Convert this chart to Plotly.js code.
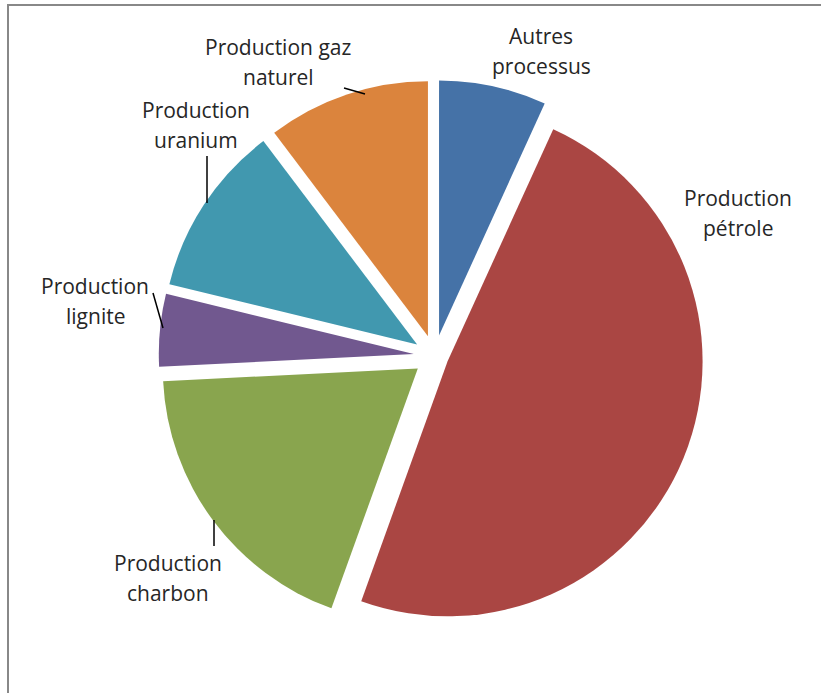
<!DOCTYPE html>
<html>
<head>
<meta charset="utf-8">
<script src="https://cdn.plot.ly/plotly-3.0.1.min.js"></script>
<style>
html,body{margin:0;padding:0;background:#fff;overflow:hidden;}
#chart{width:821px;height:693px;position:relative;}
#frame{position:absolute;left:7px;top:4px;width:900px;height:900px;border-left:2px solid #888;border-top:2px solid #888;pointer-events:none;z-index:5;}
</style>
</head>
<body>
<div id="chart"></div>
<div id="frame"></div>
<script>
// ---- data ----
var categories = ["Autres processus", "Production pétrole", "Production charbon", "Production lignite", "Production uranium", "Production gaz naturel"];
var values = [6.8, 48.7, 18.7, 4.6, 10.9, 10.3];
var labelLines = [["Autres", "processus"], ["Production", "pétrole"], ["Production", "charbon"], ["Production", "lignite"], ["Production", "uranium"], ["Production gaz", "naturel"]];

// ---- styles / layout positions ----
var colors = ["#4572A7", "#AA4643", "#89A54E", "#71588F", "#4198AF", "#DB843D"];
var pulls = [0.082, 0.055, 0.082, 0.082, 0.082, 0.082];
var W = 821, H = 693;
var labelPos = [[541, 51], [738, 213], [168, 578], [95, 301], [196, 125], [278, 62]];
var lineGap = 29.5;
var leaders = [null, null, [[214, 520], [214, 546]], [[153, 293], [163, 328]], [[207, 156], [207, 203]], [[344, 88], [365, 94]]];

function px(x){ return x / W; }
function py(y){ return 1 - y / H; }

var pieCx = 434.6, pieCy = 356, pieBox = 551.8;

var trace = {
  type: "pie",
  labels: categories,
  values: values,
  sort: false,
  direction: "clockwise",
  rotation: 0,
  pull: pulls,
  marker: {colors: colors, line: {width: 0}},
  textinfo: "none",
  hoverinfo: "label+percent",
  showlegend: false,
  domain: {
    x: [px(pieCx - pieBox / 2), px(pieCx + pieBox / 2)],
    y: [py(pieCy + pieBox / 2), py(pieCy - pieBox / 2)]
  }
};

var annotations = [];
labelLines.forEach(function(lines, i){
  var cx = labelPos[i][0], cy = labelPos[i][1];
  var n = lines.length;
  lines.forEach(function(t, j){
    annotations.push({
      xref: "paper", yref: "paper",
      x: px(cx), y: py(cy + (j - (n - 1) / 2) * lineGap),
      xanchor: "center", yanchor: "middle",
      text: t, showarrow: false,
      font: {family: "'Open Sans', sans-serif", size: 21, color: "#262626"}
    });
  });
});

var shapes = [];
leaders.forEach(function(l){
  if (!l) return;
  shapes.push({type: "line", xref: "paper", yref: "paper",
    x0: px(l[0][0]), y0: py(l[0][1]), x1: px(l[1][0]), y1: py(l[1][1]),
    line: {color: "#000000", width: 1.5}});
});

var layout = {
  width: W, height: H,
  margin: {l: 0, r: 0, t: 0, b: 0},
  paper_bgcolor: "rgba(0,0,0,0)",
  plot_bgcolor: "rgba(0,0,0,0)",
  showlegend: false,
  annotations: annotations,
  shapes: shapes
};

Plotly.newPlot("chart", [trace], layout, {displayModeBar: false, staticPlot: true});
</script>
</body>
</html>
